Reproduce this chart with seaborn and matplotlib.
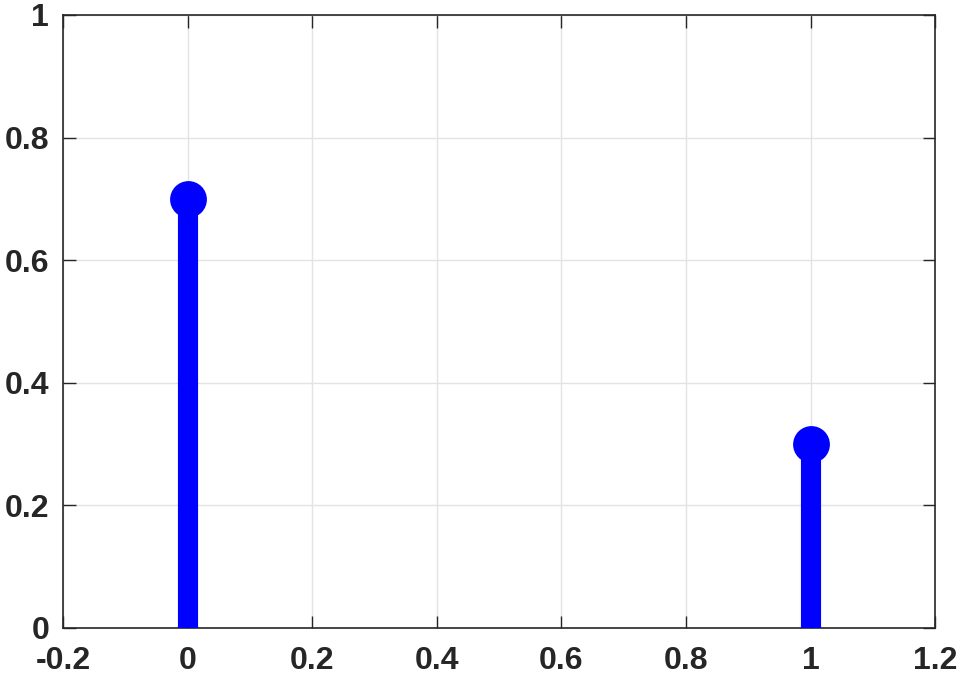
import matplotlib
matplotlib.use("Agg")
import matplotlib.pyplot as plt
import seaborn as sns
import pandas as pd

x_vals = [0, 1]
y_vals = [0.7, 0.3]
x_ticks = [-0.2, 0, 0.2, 0.4, 0.6, 0.8, 1, 1.2]
x_labels = ["-0.2", "0", "0.2", "0.4", "0.6", "0.8", "1", "1.2"]
y_ticks = [0, 0.2, 0.4, 0.6, 0.8, 1]
y_labels = ["0", "0.2", "0.4", "0.6", "0.8", "1"]

df = pd.DataFrame({"x": x_vals, "y": y_vals})

sns.set_style("whitegrid")
plt.rcParams["font.family"] = ["Liberation Sans", "DejaVu Sans"]

fig = plt.figure(figsize=(9.64, 6.8), dpi=100)
ax = fig.add_axes([0.0654, 0.0765, 0.9046, 0.9015])

ax.vlines(df["x"], 0, df["y"], color="#0000ff", linewidth=14.5, zorder=3)
sns.scatterplot(data=df, x="x", y="y", ax=ax, color="#0000ff", s=600,
                edgecolor="#0000ff", linewidth=2, zorder=4, clip_on=False)

ax.set_xlim(-0.2, 1.2)
ax.set_ylim(0, 1)
ax.set_xticks(x_ticks)
ax.set_xticklabels(x_labels)
ax.set_yticks(y_ticks)
ax.set_yticklabels(y_labels)
ax.set_xlabel("")
ax.set_ylabel("")

ax.grid(True, color="#e3e3e3", linewidth=1)
for s in ax.spines.values():
    s.set_color("#262626")
    s.set_linewidth(1.2)
ax.tick_params(axis="both", direction="in", length=9, width=1, color="#262626",
               labelsize=23, labelcolor="#262626", top=True, right=True,
               bottom=True, left=True)
ax.tick_params(axis="x", pad=13)
ax.tick_params(axis="y", pad=10)
for lbl in ax.get_xticklabels() + ax.get_yticklabels():
    lbl.set_fontweight("bold")

fig.savefig("out.png", dpi=100)
